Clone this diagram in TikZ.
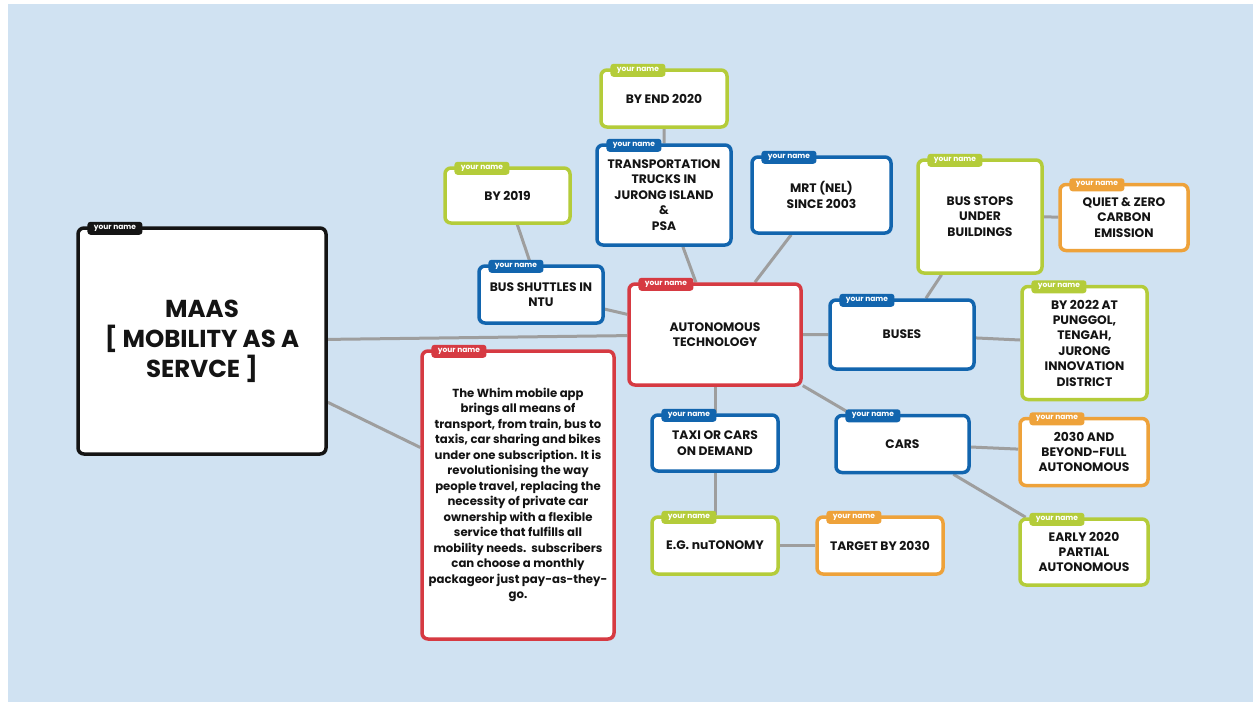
\documentclass[tikz,border=0pt]{standalone}
\usepackage{fontspec}
\setmainfont{Poppins}
\usetikzlibrary{backgrounds}
\definecolor{MindSky}{RGB}{208,226,242}
\definecolor{MindRed}{RGB}{214,58,66}
\definecolor{MindBlue}{RGB}{18,101,174}
\definecolor{MindGreen}{RGB}{180,204,58}
\definecolor{MindOrange}{RGB}{238,162,58}
\definecolor{MindInk}{RGB}{20,20,20}
\definecolor{MindLine}{RGB}{158,158,158}
\tikzset{
  mind tag/.style={
    fill=#1,
    text=white,
    rounded corners=3pt,
    inner xsep=4pt,
    inner ysep=2pt,
    minimum width=55pt,
    minimum height=13pt,
    font=\fontsize{7.5}{7.5}\selectfont\bfseries
  },
  mind box/.style={
    draw=#1,
    fill=white,
    line width=3.5pt,
    rounded corners=6pt,
    align=center,
    text=MindInk,
    inner sep=2pt,
    font=\fontsize{12.3}{15.4}\selectfont\bfseries,
    label={[mind tag=#1, anchor=west, xshift=11pt, yshift=-2pt]north west:your name}
  },
  mind red/.style={mind box=MindRed},
  mind blue/.style={mind box=MindBlue},
  mind green/.style={mind box=MindGreen},
  mind orange/.style={mind box=MindOrange},
  mind link/.style={draw=MindLine, line width=3pt}
}

\begin{document}
\begin{tikzpicture}[x=1pt, y=-1pt]
\useasboundingbox (0,0) rectangle (1253,702);
% root and its two children
\node[mind box=MindInk, minimum width=248pt, minimum height=226pt, font=\fontsize{24.5}{30}\selectfont\bfseries] (maas) at (202,341) {MAAS\\{}[ MOBILITY AS A\\SERVCE ]};
\node[mind red, minimum width=192pt, minimum height=288pt, font=\fontsize{11.7}{15.5}\selectfont\bfseries] (whim) at (518,495) {The Whim mobile app\\brings all means of\\transport, from train, bus to\\taxis, car sharing and bikes\\under one subscription. It is\\revolutionising the way\\people travel, replacing the\\necessity of private car\\ownership with a flexible\\service that fulfills all\\mobility needs.\ \ subscribers\\can choose a monthly\\packageor just pay-as-they-\\go.};
\node[mind red, minimum width=172pt, minimum height=101pt] (auto) at (715,334.5) {AUTONOMOUS\\TECHNOLOGY};
% upper branch
\node[mind blue, minimum width=124pt, minimum height=57pt] (shuttle) at (541,294.5) {BUS SHUTTLES IN\\NTU};
\node[mind green, minimum width=125pt, minimum height=55pt] (by2019) at (507.5,195.5) {BY 2019};
\node[mind blue, minimum width=134pt, minimum height=100pt] (trucks) at (664,195) {TRANSPORTATION\\TRUCKS IN\\JURONG ISLAND\\\&\\PSA};
\node[mind green, minimum width=126pt, minimum height=57pt] (byend) at (664,98.5) {BY END 2020};
\node[mind blue, minimum width=139pt, minimum height=76pt] (mrt) at (821.5,195) {MRT (NEL)\\SINCE 2003};
% buses
\node[mind blue, minimum width=144pt, minimum height=69pt] (buses) at (902,334.5) {BUSES};
\node[mind green, minimum width=124pt, minimum height=113pt] (stops) at (980,216.5) {BUS STOPS\\UNDER\\BUILDINGS};
\node[mind orange, minimum width=128pt, minimum height=66pt] (quiet) at (1124,217.5) {QUIET \& ZERO\\CARBON\\EMISSION};
\node[mind green, minimum width=125pt, minimum height=113pt] (by2022) at (1084.5,343) {BY 2022 AT\\PUNGGOL,\\TENGAH,\\JURONG\\INNOVATION\\DISTRICT};
% cars
\node[mind blue, minimum width=133pt, minimum height=57pt] (cars) at (902.5,444) {CARS};
\node[mind orange, minimum width=128pt, minimum height=67pt] (full) at (1084,452) {2030 AND\\BEYOND-FULL\\AUTONOMOUS};
\node[mind green, minimum width=128pt, minimum height=66pt] (early) at (1084,552) {EARLY 2020\\PARTIAL\\AUTONOMOUS};
% taxi
\node[mind blue, minimum width=126pt, minimum height=56pt] (taxi) at (715,443) {TAXI OR CARS\\ON DEMAND};
\node[mind green, minimum width=126pt, minimum height=57pt] (nutonomy) at (715,545.5) {E.G. nuTONOMY};
\node[mind orange, minimum width=126pt, minimum height=57pt] (target) at (880,545.5) {TARGET BY 2030};
\begin{scope}[on background layer]
\fill[MindSky] (8,4) rectangle (1253,702);
\draw[mind link] (maas) -- (auto);
\draw[mind link] (maas) -- (whim);
\draw[mind link] (auto) -- (shuttle) -- (by2019);
\draw[mind link] (auto) -- (trucks) -- (byend);
\draw[mind link] (auto) -- (mrt);
\draw[mind link] (auto) -- (buses) -- (stops) -- (quiet);
\draw[mind link] (buses) -- (by2022);
\draw[mind link] (auto) -- (cars) -- (full);
\draw[mind link] (cars) -- (early);
\draw[mind link] (auto) -- (taxi) -- (nutonomy) -- (target);
\end{scope}
\end{tikzpicture}
\end{document}
